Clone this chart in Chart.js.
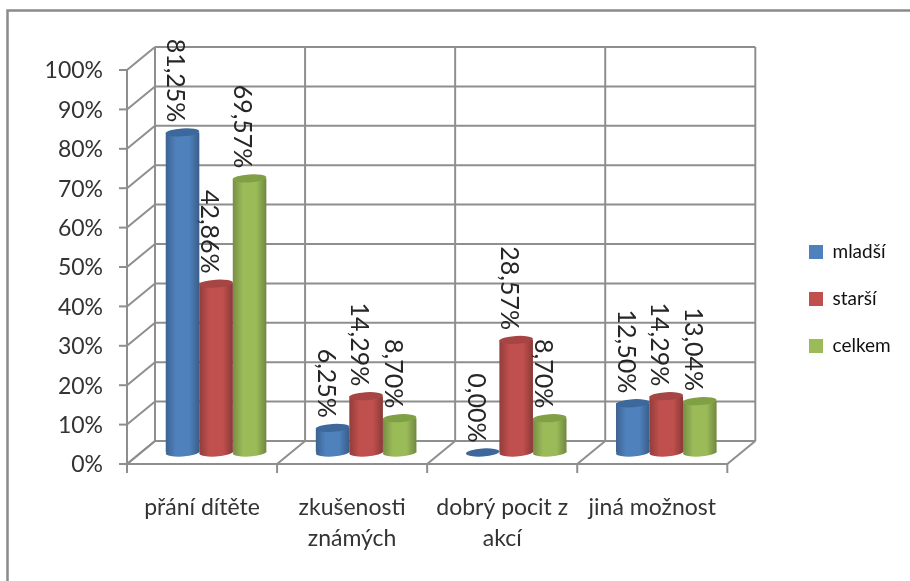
<!DOCTYPE html>
<html>
<head>
<meta charset="utf-8">
<script src="https://cdn.jsdelivr.net/npm/chart.js@4"></script>
<style>
  html, body { margin: 0; padding: 0; background: #fff; }
  #wrap { width: 910px; height: 581px; }
  canvas { filter: blur(0.4px); }
</style>
</head>
<body>
<div id="wrap"><canvas id="myChart" width="910" height="581"></canvas></div>
<script>
// data
const categories = ['přání dítěte', ['zkušenosti', 'známých'], ['dobrý pocit z', 'akcí'], 'jiná možnost'];
const mladsi = [81.25, 6.25, 0, 12.5];
const starsi = [42.86, 14.29, 28.57, 14.29];
const celkem = [69.57, 8.7, 8.7, 13.04];

const fontName = 'Lato, "Open Sans", sans-serif';
const gridColor = '#8e8e8e';
const depthX = 14;     // half of the fake 3D depth
const depthY = 11.5;

function formatValue(v) {
    return v.toFixed(2).replace('.', ',') + '%';
}

// outer frame and the 3D walls behind the bars
const wallsPlugin = {
    id: 'walls',
    beforeDraw(chart) {
        const c = chart.ctx;
        c.save();
        c.strokeStyle = '#8a8a8a';
        c.lineWidth = 2.5;
        c.beginPath();
        c.moveTo(7.5, 581);
        c.lineTo(7.5, 10.5);
        c.lineTo(910, 10.5);
        c.stroke();
        c.restore();
    },
    beforeDatasetsDraw(chart) {
        const c = chart.ctx;
        const xs = chart.scales.x;
        const ys = chart.scales.y;
        const step = (xs.right - xs.left) / categories.length;
        const line = (x1, y1, x2, y2) => {
            c.beginPath();
            c.moveTo(x1, y1);
            c.lineTo(x2, y2);
            c.stroke();
        };
        c.save();
        c.strokeStyle = gridColor;
        c.lineWidth = 2;

        // horizontal lines on back wall + side wall + small ticks
        ys.ticks.forEach(t => {
            const y = ys.getPixelForValue(t.value);
            line(xs.left + depthX, y - depthY, xs.right + depthX, y - depthY);
            line(xs.left - depthX, y + depthY, xs.left + depthX, y - depthY);
            line(xs.left - depthX - 8, y + depthY, xs.left - depthX, y + depthY);
        });

        // verticals on the back wall and the floor diagonals
        const top = ys.getPixelForValue(100);
        const bottom = ys.getPixelForValue(0);
        for (let i = 0; i <= categories.length; i++) {
            const x = xs.left + i * step;
            line(x + depthX, top - depthY, x + depthX, bottom - depthY);
            line(x - depthX, bottom + depthY, x + depthX, bottom - depthY);
            line(x - depthX, bottom + depthY, x - depthX, bottom + depthY + 9);
        }

        // front edges
        line(xs.left - depthX, top + depthY, xs.left - depthX, bottom + depthY);
        line(xs.left - depthX, bottom + depthY, xs.right - depthX, bottom + depthY);
        c.restore();
    }
};

// round the bars off into cylinders and write the rotated labels
const cylinderPlugin = {
    id: 'cylinders',
    afterDatasetsDraw(chart) {
        const c = chart.ctx;
        const tops = ['#3c689c', '#a64543', '#80a046'];
        chart.data.datasets.forEach((ds, di) => {
            chart.getDatasetMeta(di).data.forEach((bar, i) => {
                const w = bar.width;
                const left = bar.x - w / 2;
                const grad = c.createLinearGradient(left, 0, left + w, 0);
                grad.addColorStop(0, 'rgba(0,0,0,0.24)');
                grad.addColorStop(0.3, 'rgba(0,0,0,0)');
                grad.addColorStop(0.7, 'rgba(0,0,0,0)');
                grad.addColorStop(1, 'rgba(0,0,0,0.28)');
                const ry = 4;
                const tilt = -0.06;
                if (ds.data[i] > 0) {
                    c.save();
                    c.beginPath();
                    c.ellipse(bar.x, bar.base, w / 2, ry, tilt, 0, Math.PI * 2);
                    c.fillStyle = ds.backgroundColor;
                    c.fill();
                    c.beginPath();
                    c.rect(left, bar.y, w, bar.base - bar.y);
                    c.ellipse(bar.x, bar.base, w / 2, ry, tilt, 0, Math.PI * 2);
                    c.fillStyle = grad;
                    c.fill();
                    c.restore();
                }
                c.save();
                c.beginPath();
                c.ellipse(bar.x, bar.y, w / 2, ry, tilt, 0, Math.PI * 2);
                c.fillStyle = tops[di];
                c.fill();
                c.restore();
            });
        });

        chart.data.datasets.forEach((ds, di) => {
            chart.getDatasetMeta(di).data.forEach((bar, i) => {
                c.save();
                c.translate(bar.x - 7, bar.y - 10);
                c.rotate(Math.PI / 2);
                c.font = '25px ' + fontName;
                c.fillStyle = '#262626';
                c.textAlign = 'right';
                c.textBaseline = 'middle';
                c.fillText(formatValue(ds.data[i]), 0, 0);
                c.restore();
            });
        });
    },
    afterLayout(chart) {
        // legend sits further right and higher than the layout would put it
        const lg = chart.legend;
        lg.left = 781;
        lg.right = 910;
        lg.width = 129;
        lg.top -= 20.75;
        lg.bottom -= 20.75;
    }
};

const chart = new Chart(document.getElementById('myChart'), {
    type: 'bar',
    data: {
        labels: categories,
        datasets: [
            { label: 'mladší', data: mladsi, backgroundColor: '#4f81bd' },
            { label: 'starší', data: starsi, backgroundColor: '#c0504d' },
            { label: 'celkem', data: celkem, backgroundColor: '#9bbb59' }
        ]
    },
    options: {
        responsive: false,
        animation: false,
        categoryPercentage: 0.67,
        barPercentage: 1,
        layout: { padding: { top: 58.5, bottom: 0, left: 0, right: 49 } },
        plugins: {
            tooltip: { enabled: false },
            legend: {
                position: 'right',
                labels: {
                    boxWidth: 14,
                    boxHeight: 14,
                    padding: 28,
                    color: '#111',
                    font: { family: fontName, size: 19 }
                }
            }
        },
        scales: {
            x: {
                grid: { display: false },
                border: { display: false },
                afterFit(scale) { scale.height = 128.5; },
                ticks: {
                    color: '#333',
                    font: { family: fontName, size: 23, lineHeight: 1.35 },
                    labelOffset: -14,
                    padding: 32,
                    maxRotation: 0,
                    autoSkip: false
                }
            },
            y: {
                min: 0,
                max: 100,
                grid: { display: false, drawTicks: false },
                border: { display: false },
                afterFit(scale) { scale.width = 141; },
                ticks: {
                    stepSize: 10,
                    color: '#333',
                    font: { family: fontName, size: 23 },
                    padding: 38,
                    labelOffset: 12.5,
                    callback: v => v + '%'
                }
            }
        }
    },
    plugins: [wallsPlugin, cylinderPlugin]
});
</script>
</body>
</html>
